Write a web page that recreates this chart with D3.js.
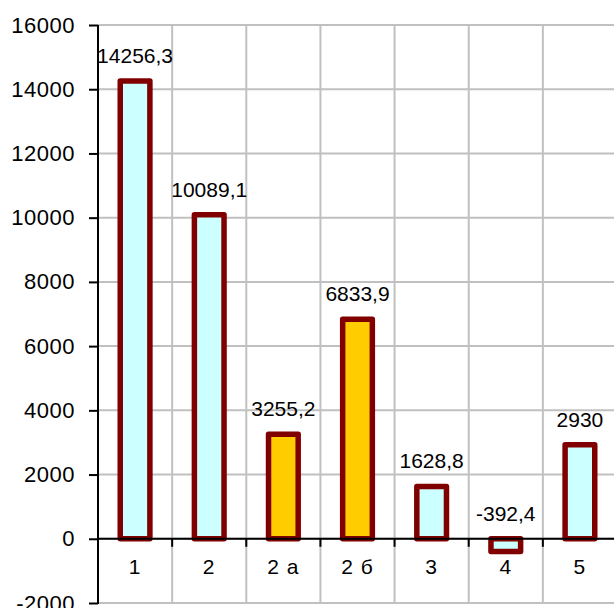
<!DOCTYPE html>
<html>
<head>
<meta charset="utf-8">
<script src="https://cdn.jsdelivr.net/npm/d3@7"></script>
<style>
  body { margin: 0; background: #fff; }
  text { font-family: "Liberation Sans", Arial, sans-serif; fill: #000; }
</style>
</head>
<body>
<svg id="chart" width="614" height="608"></svg>
<script>
// categories and values
var categories = ["1", "2", "2 а", "2 б", "3", "4", "5"];
var values = [14256.3, 10089.1, 3255.2, 6833.9, 1628.8, -392.4, 2930];
var highlighted = ["2 а", "2 б"];   // yellow bars
var yTicks = [-2000, 0, 2000, 4000, 6000, 8000, 10000, 12000, 14000, 16000];

var svg = d3.select("#chart");
var plotLeft = 98, plotRight = 617, plotTop = 25, plotBottom = 603;

var x = d3.scaleBand().domain(categories).range([plotLeft, plotRight]).padding(0);
var y = d3.scaleLinear().domain([-2000, 16000]).range([plotBottom, plotTop]);

// сетка
svg.append("g").selectAll("line")
  .data(yTicks).enter().append("line")
    .attr("x1", plotLeft).attr("x2", 614)
    .attr("y1", function(d) { return y(d); })
    .attr("y2", function(d) { return y(d); })
    .style("stroke", "#c0c0c0").style("stroke-width", 2);

svg.append("g").selectAll("line")
  .data(categories.slice(1)).enter().append("line")
    .attr("x1", function(d) { return x(d); })
    .attr("x2", function(d) { return x(d); })
    .attr("y1", plotTop).attr("y2", plotBottom)
    .style("stroke", "#c0c0c0").style("stroke-width", 2);

// ось Y
var yAxis = svg.append("g")
  .attr("transform", "translate(" + plotLeft + ",0)")
  .call(d3.axisLeft(y).tickValues(yTicks).tickSize(9).tickPadding(14)
        .tickFormat(function(d) { return String(d); }));
yAxis.select(".domain").remove();
yAxis.selectAll(".tick line").style("stroke", "#000").style("stroke-width", 2);
yAxis.selectAll("text").style("font-size", "22px").attr("letter-spacing", "0.5px")
  .style("font-family", "'Liberation Sans', Arial, sans-serif");
svg.append("line")
  .attr("x1", plotLeft).attr("x2", plotLeft).attr("y1", plotTop).attr("y2", plotBottom + 1)
  .style("stroke", "#000").style("stroke-width", 2);

// столбцы
var bw = x.bandwidth() * 0.4;
svg.append("g").selectAll("rect")
  .data(categories).enter().append("rect")
    .attr("x", function(d) { return x(d) + (x.bandwidth() - bw) / 2; })
    .attr("y", function(d, i) { return y(Math.max(values[i], 0)); })
    .attr("width", bw)
    .attr("height", function(d, i) { return Math.abs(y(values[i]) - y(0)); })
    .style("fill", function(d) { return highlighted.indexOf(d) >= 0 ? "#ffcc00" : "#ccffff"; })
    .style("stroke", "#800000").style("stroke-width", 5.5)
    .style("stroke-linejoin", "round");

// ось X на нуле
svg.append("line")
  .attr("x1", plotLeft).attr("x2", 614).attr("y1", y(0)).attr("y2", y(0))
  .style("stroke", "#000").style("stroke-width", 2);
svg.append("g").selectAll("line")
  .data(categories.slice(1)).enter().append("line")
    .attr("x1", function(d) { return x(d); })
    .attr("x2", function(d) { return x(d); })
    .attr("y1", y(0)).attr("y2", y(0) + 8)
    .style("stroke", "#000").style("stroke-width", 2);

// подписи категорий
svg.append("g").selectAll("text")
  .data(categories).enter().append("text")
    .attr("x", function(d) { return x(d) + x.bandwidth() / 2; })
    .attr("y", y(0) + 35)
    .attr("text-anchor", "middle")
    .attr("letter-spacing", "1px")
    .style("font-size", "21px")
    .text(function(d) { return d; });

// подписи значений
svg.append("g").selectAll("text")
  .data(categories).enter().append("text")
    .attr("x", function(d) { return x(d) + x.bandwidth() / 2; })
    .attr("y", function(d, i) { return y(Math.max(values[i], 0)) - 18; })
    .attr("text-anchor", "middle")
    .style("font-size", "21px")
    .text(function(d, i) { return String(values[i]).replace(".", ","); });
</script>
</body>
</html>
